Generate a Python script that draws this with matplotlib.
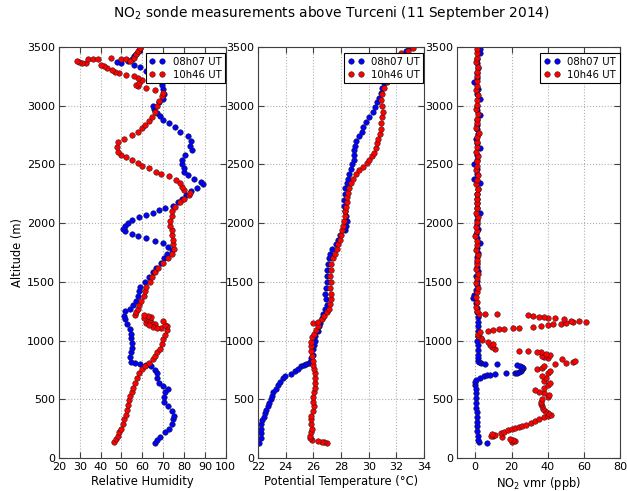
import matplotlib
matplotlib.use("Agg")
import matplotlib.pyplot as plt

# ---- 08h07 UT sounding ----
rh_alt_0807 = [130, 150, 180, 220, 250, 290, 330, 360, 400, 440, 480, 520, 560, 590, 610,
               640, 680, 720, 750, 780, 795, 800, 805, 820, 860, 900, 940, 980, 1020, 1060,
               1100, 1140, 1180, 1210, 1250, 1270, 1300, 1340, 1380, 1420, 1460, 1500, 1540,
               1580, 1620, 1660, 1700, 1740, 1775, 1800, 1830, 1850, 1870, 1890, 1910, 1930,
               1950, 1975, 2000, 2030, 2050, 2070, 2090, 2110, 2130, 2150, 2180, 2210, 2240,
               2270, 2300, 2330, 2350, 2380, 2410, 2440, 2470, 2500, 2540, 2580, 2620, 2660,
               2700, 2740, 2780, 2820, 2850, 2880, 2910, 2940, 2970, 3000, 3030, 3060, 3100,
               3140, 3180, 3210, 3240, 3270, 3300, 3330, 3350, 3365, 3375, 3380, 3400, 3420,
               3440, 3470, 3495]
rh_0807 = [66, 67, 68.5, 71, 73, 74, 74.5, 75, 74, 72.5, 70.5, 70.5, 71, 72.5, 70,
           68, 67, 67, 66, 64, 62, 59, 56.5, 54.5, 54, 54.5, 55, 55, 54.5, 54.5,
           54, 52.5, 51.5, 51, 51.5, 54, 55.5, 57, 58, 58.5, 59, 61.5, 63,
           65, 66.5, 69, 70.5, 72, 74, 72.5, 70, 66, 62, 58, 55, 51.5,
           50.5, 51.5, 53, 55, 58.5, 62, 65, 68, 71, 74.5, 77, 79, 81,
           83.5, 86, 89, 88, 85, 82, 80, 80, 79, 79, 80.5, 84, 83,
           83.5, 82, 78, 75.5, 73, 70, 68.5, 67, 65.5, 65, 68, 70, 70.5,
           70, 69.5, 68.5, 66, 64, 62, 59, 56, 50, 48, 53, 55, 56,
           57, 58.5, 59]

th_alt_0807 = [130, 170, 210, 250, 290, 320, 350, 380, 410, 440, 470, 500, 530, 560, 590,
               620, 650, 680, 700, 715, 740, 760, 780, 795, 800, 805, 820, 850, 880, 925,
               960, 1000, 1040, 1080, 1120, 1150, 1190, 1230, 1265, 1300, 1350, 1400, 1450,
               1500, 1550, 1600, 1650, 1700, 1740, 1780, 1820, 1860, 1900, 1940, 1980, 2020,
               2060, 2100, 2150, 2200, 2250, 2300, 2340, 2380, 2420, 2460, 2500, 2540, 2580,
               2620, 2660, 2700, 2740, 2780, 2820, 2860, 2900, 2950, 2990, 3030, 3070, 3110,
               3150, 3190, 3230, 3270, 3310, 3350, 3390, 3430, 3470, 3495]
th_0807 = [22.1, 22.2, 22.2, 22.25, 22.25, 22.3, 22.4, 22.5, 22.55, 22.7, 22.8, 22.95, 23.0, 23.1, 23.3,
           23.45, 23.6, 23.8, 23.95, 24.4, 24.7, 24.9, 25.1, 25.3, 25.5, 25.65, 25.75, 25.85, 25.95, 26.0,
           26.05, 26.1, 26.15, 26.3, 26.4, 26.5, 26.6, 26.7, 26.85, 26.95, 26.9, 26.85, 26.9,
           26.95, 27.0, 27.0, 27.05, 27.1, 27.2, 27.35, 27.6, 27.75, 27.95, 28.25, 28.35, 28.4,
           28.35, 28.25, 28.2, 28.2, 28.25, 28.3, 28.4, 28.5, 28.55, 28.7, 28.8, 28.9, 28.9,
           28.95, 29.0, 29.1, 29.3, 29.5, 29.6, 29.8, 30.0, 30.3, 30.45, 30.6, 30.75, 30.9,
           30.95, 31.1, 31.25, 31.35, 31.5, 31.8, 32.1, 32.4, 32.7, 32.9]

no2_alt_0807 = [125, 135, 150, 190, 230, 270, 310, 350, 390, 430, 470, 510, 550, 590, 620,
                650, 665, 680, 700, 705, 708, 715, 720, 720, 725, 735, 745, 755, 765, 775,
                785, 795, 800, 800, 805, 815, 825, 850, 880, 920, 960, 1000, 1040, 1080,
                1120, 1160, 1200, 1240, 1280, 1320, 1360, 1390, 1430, 1470, 1510, 1550, 1590,
                1630, 1670, 1710, 1750, 1790, 1830, 1870, 1910, 1950, 1990, 2030, 2070, 2090,
                2130, 2170, 2210, 2250, 2290, 2340, 2380, 2420, 2460, 2500, 2540, 2580, 2640,
                2680, 2720, 2760, 2800, 2840, 2880, 2920, 2960, 3000, 3060, 3100, 3140, 3200,
                3240, 3280, 3320, 3360, 3400, 3450, 3480]
no2_0807 = [6.3, 2.0, 1.8, 1.5, 1.2, 1.0, 0.8, 0.7, 0.8, 0.6, 0.5, 0.4, 0.3, 0.2, 0.0,
            -0.2, 0.5, 2.5, 5.0, 6.5, 8.0, 11.0, 17.0, 22.0, 23.0, 24.0, 25.0, 26.0, 26.5, 25.5,
            24.5, 23.0, 12.0, 5.4, 3.0, 2.0, 1.5, 1.4, 1.4, 1.3, 1.3, 1.2, 1.5, 1.6,
            1.6, 1.5, 1.4, 1.2, 0.9, 0.5, -1.0, -0.9, 0.3, 0.8, 1.1, 0.6, 1.4,
            0.9, 1.2, 0.7, 1.5, 0.8, 2.7, 1.0, 0.6, 1.3, 0.9, 1.1, 0.8, 2.4,
            1.0, 0.7, 1.2, 0.9, 1.4, 2.7, -0.9, 1.1, 0.8, -0.9, 1.2, 0.9, 2.7,
            1.0, 0.6, 1.3, 0.9, 1.1, 0.7, 2.7, 1.2, 0.8, 2.7, 1.0, 1.4, -0.9,
            1.1, 0.8, 1.3, 0.9, 1.2, 2.7, 2.7]

# ---- 10h46 UT sounding ----
rh_alt_1046 = [140, 160, 190, 220, 250, 290, 330, 370, 410, 450, 490, 530, 560, 600, 640,
               680, 720, 755, 780, 810, 840, 870, 900, 930, 970, 1010, 1050, 1090, 1110, 1120,
               1130, 1140, 1150, 1160, 1170, 1180, 1190, 1200, 1210, 1220, 1115, 1135, 1165,
               1105, 1220, 1240, 1270, 1300, 1340, 1380, 1420, 1460, 1500, 1540, 1580, 1620,
               1660, 1700, 1740, 1780, 1820, 1860, 1900, 1940, 1980, 2020, 2060, 2100, 2140,
               2180, 2210, 2240, 2260, 2280, 2310, 2340, 2370, 2400, 2420, 2440, 2470, 2490,
               2510, 2540, 2560, 2580, 2610, 2650, 2690, 2720, 2750, 2780, 2810, 2840, 2870,
               2900, 2950, 3000, 3040, 3080, 3110, 3135, 3150, 3165, 3180, 3195, 3220, 3240,
               3255, 3265, 3275, 3290, 3305, 3320, 3335, 3350, 3360, 3365, 3375, 3385, 3395,
               3400, 3402, 3408, 3400, 3398, 3380, 3410, 3440, 3470, 3495]
rh_1046 = [46.4, 47.5, 48.5, 49, 50, 50.5, 51, 52, 52.5, 53, 53.5, 54, 55, 55.5, 56.5,
           57.5, 58.5, 60, 61.5, 63, 65, 66, 67, 68.5, 69.5, 70, 71, 72, 69, 72,
           71, 66, 62, 64, 63, 62, 61, 64, 62.5, 61, 65, 63, 70,
           67, 56.5, 57, 58, 58.5, 59.5, 61, 61.5, 62, 63.5, 64.5, 66, 67.5,
           70, 72.5, 74, 75, 74.5, 74.5, 74, 74, 73.5, 73.5, 74, 74, 75.5,
           78, 80, 82.5, 83, 80, 79, 78, 76, 73, 69, 66.5, 63, 60,
           58, 55, 52, 50, 48.5, 48, 48.5, 51, 55, 58, 60, 61.5, 63,
           64.5, 66, 67, 68, 69.5, 70, 66, 62, 58, 57, 58.5, 60, 58,
           56, 52, 49, 47, 45.5, 43, 41.5, 40, 33, 31, 29.5, 28.5, 34,
           36.5, 38.5, 44.8, 50, 52, 54, 56, 57, 58, 59]

th_alt_1046 = [130, 135, 140, 145, 155, 170, 190, 220, 250, 290, 330, 360, 400, 440, 480,
               520, 560, 600, 640, 680, 720, 755, 790, 830, 870, 910, 950, 990, 1030, 1060,
               1090, 1120, 1150, 1160, 1180, 1210, 1240, 1270, 1310, 1350, 1400, 1450, 1500,
               1550, 1600, 1650, 1700, 1740, 1780, 1820, 1860, 1900, 1940, 1980, 2020, 2060,
               2100, 2140, 2180, 2220, 2260, 2300, 2340, 2380, 2420, 2450, 2480, 2510, 2540,
               2570, 2600, 2640, 2680, 2720, 2760, 2800, 2850, 2900, 2950, 3000, 3050, 3100,
               3150, 3200, 3250, 3300, 3350, 3400, 3420, 3450, 3470, 3490]
th_1046 = [27.0, 26.8, 26.6, 26.3, 25.9, 25.75, 25.75, 25.85, 25.9, 25.85, 25.8, 25.85, 25.95, 26.05, 25.95,
           26.0, 26.05, 26.1, 26.1, 26.1, 26.15, 26.05, 26.0, 25.95, 25.9, 25.85, 25.8, 25.85, 25.9, 26.05,
           26.2, 26.3, 25.95, 26.3, 26.6, 26.8, 27.0, 27.15, 27.2, 27.25, 27.25, 27.2, 27.25,
           27.2, 27.25, 27.3, 27.4, 27.55, 27.7, 27.8, 27.9, 28.0, 28.1, 28.15, 28.2, 28.3,
           28.3, 28.35, 28.4, 28.45, 28.5, 28.6, 28.7, 28.85, 29.05, 29.3, 29.6, 29.85, 30.0,
           30.2, 30.35, 30.5, 30.6, 30.7, 30.8, 30.85, 30.9, 30.95, 31.0, 30.95, 30.9, 30.95,
           31.1, 31.3, 31.45, 31.6, 31.75, 31.9, 32.0, 32.3, 32.8, 33.2]

no2_alt_1046 = [135, 145, 155, 165, 175, 185, 190, 200, 205, 215, 225, 235, 245, 255, 265,
                275, 285, 300, 315, 330, 345, 355, 365, 380, 400, 420, 440, 460, 480, 500,
                520, 535, 550, 565, 580, 600, 620, 640, 660, 680, 700, 720, 745, 760, 770,
                785, 800, 810, 820, 830, 840, 850, 860, 870, 880, 890, 900, 905, 910, 915,
                930, 945, 960, 975, 990, 1005, 1020, 1040, 1060, 1075, 1085, 1090, 1095, 1100,
                1105, 1110, 1115, 1120, 1130, 1140, 1145, 1150, 1160, 1165, 1160, 1170, 1180,
                1190, 1195, 1200, 1205, 1210, 1215, 1225, 1228, 1230, 1250, 1290, 1330, 1370,
                1410, 1450, 1490, 1530, 1570, 1610, 1650, 1690, 1730, 1770, 1810, 1850, 1890,
                1930, 1970, 2010, 2050, 2090, 2130, 2170, 2210, 2250, 2290, 2330, 2370, 2410,
                2450, 2490, 2530, 2570, 2610, 2650, 2690, 2730, 2770, 2810, 2850, 2890, 2930,
                2970, 3010, 3050, 3090, 3130, 3170, 3210, 3250, 3290, 3330, 3370, 3410, 3450,
                3480]
no2_1046 = [20, 22, 21, 19, 15, 10, 8.5, 11, 9, 14, 16, 18, 20, 22, 24,
            26, 28, 31, 33, 35, 38, 40, 42, 40, 38.5, 37.5, 37, 36, 36, 37,
            40, 40.5, 38, 35, 33, 38, 40, 41, 38, 39, 37, 40, 41, 34, 37,
            38, 44, 50, 54, 55, 48, 40, 38, 37, 41, 39, 36, 34, 29, 24,
            11, 9, 8, 10, 7, 4, 3, 1.5, 1.8, 2.5, 7, 10, 13, 16,
            21, 24, 32, 36, 40, 43, 47, 50, 54, 57, 61, 53, 49,
            44, 40, 38, 35, 32, 29, 12, 5.4, 2.0, 1.0, 0.6, 1.2, 0.4,
            0.9, 1.3, 0.5, 0.8, 1.6, 0.3, 1.0, 0.7, 1.4, 0.5, 1.1, 0.8, -0.4,
            1.2, 0.6, 1.0, 1.5, 0.4, 0.9, 1.2, 0.7, 1.0, 1.8, 0.5, 0.9, 1.3,
            0.6, 1.1, 0.8, 1.4, 0.3, 1.0, 0.7, 1.2, 2.0, 0.5, 1.0, 0.8, 1.3,
            0.6, 1.1, 0.9, 1.4, 0.4, 1.0, 0.7, 1.2, 0.9, 1.5, 0.6, 1.0, 0.8,
            1.1]

series_labels = ["08h07 UT", "10h46 UT"]
series_colors = ["#0000ff", "#ff0000"]

plt.rcParams['font.family'] = 'DejaVu Sans'
fig = plt.figure(figsize=(6.27, 4.91), dpi=100)
fig.patch.set_facecolor('white')

panels = [
    ([rh_alt_0807, rh_alt_1046], [rh_0807, rh_1046], "Relative Humidity", (20, 100), range(20, 101, 10)),
    ([th_alt_0807, th_alt_1046], [th_0807, th_1046], u"Potential Temperature (\u00b0C)", (22, 34), range(22, 35, 2)),
    ([no2_alt_0807, no2_alt_1046], [no2_0807, no2_1046], "NO$_2$ vmr (ppb)", (-10, 80), range(0, 81, 20)),
]
lefts = [0.094, 0.4115, 0.729]
widths = [0.266, 0.265, 0.2605]

for i, (alts, vals, xlab, xlim, xt) in enumerate(panels):
    ax = fig.add_axes([lefts[i], 0.0672, widths[i], 0.837])
    for a, v, lab, col in zip(alts, vals, series_labels, series_colors):
        ax.plot(v, a, 'o', color=col, mec='#1a1a1a', mew=0.35, ms=4.0, label=lab)
    ax.set_xlim(*xlim)
    ax.set_ylim(0, 3500)
    ax.set_xticks(list(xt))
    ax.set_yticks(range(0, 3501, 500))
    ax.grid(True, color='#b0b0b0', linestyle=':', linewidth=0.8)
    ax.tick_params(direction='in', top=True, right=True, labelsize=8, length=4, pad=3,
                   color='#404040')
    ax.set_xlabel(xlab, fontsize=8.3, labelpad=2)
    if i == 0:
        ax.set_ylabel("Altitude (m)", fontsize=8.3, labelpad=2)
    for s in ax.spines.values():
        s.set_color('#404040')
    leg = ax.legend(loc='upper right', bbox_to_anchor=(0.995, 0.985), borderaxespad=0,
                    numpoints=2, fontsize=7.3, fancybox=False, framealpha=1,
                    handlelength=1.6, handletextpad=0.7, borderpad=0.35, labelspacing=0.3)
    leg.get_frame().set_edgecolor('black')
    leg.get_frame().set_linewidth(0.8)

fig.text(0.528, 0.9654, "NO$_2$ sonde measurements above Turceni (11 September 2014)",
         fontsize=9.9, ha='center', va='baseline')
fig.savefig("out.png", dpi=100)
